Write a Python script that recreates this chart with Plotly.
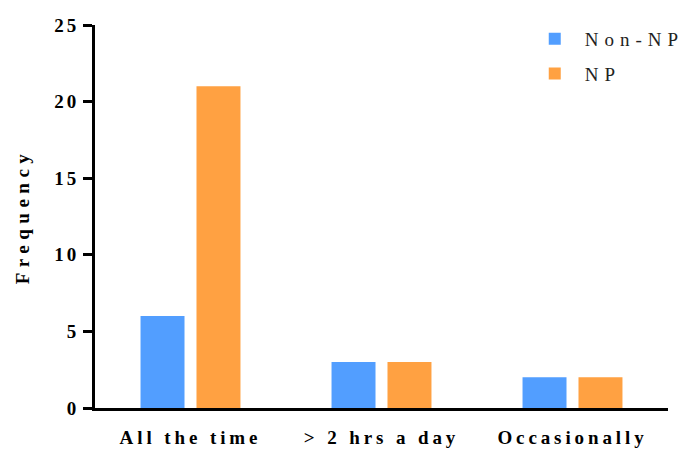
import plotly.graph_objects as go

categories = ["All the time", "> 2 hrs a day", "Occasionally"]
non_np = [6, 3, 2]
np_vals = [21, 3, 2]
series_names = ["Non-NP", "NP"]
y_ticks = [0, 5, 10, 15, 20, 25]

FONT = "Liberation Serif"

def spaced(s, px=2.5):
    return f'<span style="letter-spacing:{px}px">{s}</span>'

fig = go.Figure()
fig.add_trace(go.Bar(x=list(range(len(categories))), y=non_np, name=spaced(series_names[0], 6),
                     legendgroup="g1",
                     marker=dict(color="#529EFF", line=dict(width=0))))
fig.add_trace(go.Bar(x=list(range(len(categories))), y=np_vals, name=spaced(series_names[1], 6),
                     legendgroup="g2",
                     marker=dict(color="#FFA142", line=dict(width=0))))

fig.update_layout(
    width=686, height=452,
    margin=dict(l=95, r=18, t=25, b=44, autoexpand=False),
    plot_bgcolor="white", paper_bgcolor="white",
    barmode="group", bargap=0.414, bargroupgap=0.214,
    font=dict(family=FONT, color="black", size=18),
    legend=dict(x=0.75, y=1.013, xanchor="left", yanchor="top",
                font=dict(family=FONT, size=19, color="#222"),
                bgcolor="rgba(0,0,0,0)", itemwidth=50, tracegroupgap=7),
    showlegend=True,
)
fig.update_xaxes(
    range=[-0.5, 2.5], tickmode="array", tickvals=list(range(len(categories))),
    ticktext=[f"<b>{spaced(c, 3.9)}</b>" for c in categories],
    showline=True, linecolor="black", linewidth=3, ticks="", showgrid=False,
    zeroline=False, automargin=False, ticklabelstandoff=10,
    tickfont=dict(family=FONT, size=19, color="black"),
)
fig.update_yaxes(
    range=[0, 25], tickmode="array", tickvals=y_ticks,
    ticktext=[f"<b>{spaced(str(t), 3)}</b>" for t in y_ticks],
    showline=True, linecolor="black", linewidth=3, ticks="outside", ticklen=9,
    tickwidth=3, tickcolor="black", showgrid=False, zeroline=False, automargin=False,
    tickfont=dict(family=FONT, size=19, color="black"),
    title=dict(text=f"<b>{spaced('Frequency', 5.5)}</b>", font=dict(family=FONT, size=19, color="black"), standoff=20),
)
fig.write_html("out.html", config={"displayModeBar": False},
               post_script="document.body.style.margin='0';")
